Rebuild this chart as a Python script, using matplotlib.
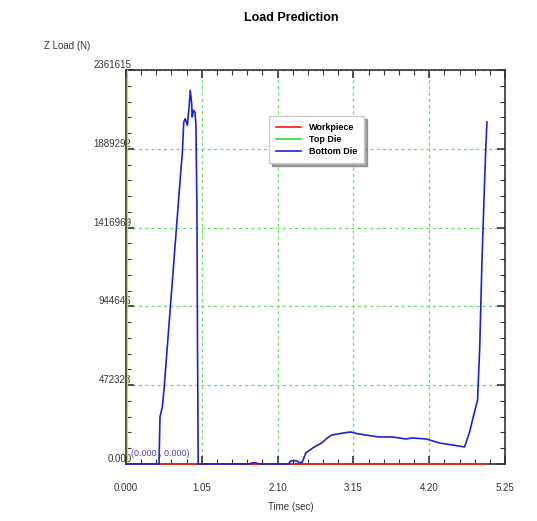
import numpy as np
import matplotlib.pyplot as plt
from matplotlib.ticker import MultipleLocator, FixedLocator

plt.rcParams['font.family'] = ['Liberation Sans', 'DejaVu Sans']

# time (sec) and Z load (N)
bottom_t = [0.0, 0.457, 0.471, 0.503, 0.526, 0.76, 0.78, 0.80, 0.82, 0.85, 0.875, 0.89,
            0.91, 0.917, 0.935, 0.955, 0.968, 0.982, 0.991, 1.0, 1.70, 1.76, 1.80, 1.86,
            2.25, 2.28, 2.36, 2.40, 2.44, 2.49, 2.60, 2.71, 2.80, 2.85, 3.0, 3.11, 3.20,
            3.32, 3.50, 3.69, 3.80, 3.88, 3.96, 4.16, 4.34, 4.52, 4.69, 4.76, 4.80, 4.87,
            4.90, 4.93, 4.96, 4.98, 5.0]
bottom_z = [0, 0, 282000, 342000, 443000, 1760000, 1860000, 2050000, 2070000, 2030000,
            2140000, 2240000, 2160000, 2080000, 2120000, 2110000, 2040000, 1560000, 683000,
            0, 0, 8000, 6000, 0, 0, 18000, 20000, 8000, 10000, 66000, 100000, 126000, 160000,
            174000, 185000, 192000, 182000, 174000, 162000, 162000, 155000, 150000, 156000,
            150000, 126000, 114000, 102000, 192000, 264000, 384000, 700000, 1200000,
            1600000, 1850000, 2050000]
work_t = [0.0, 5.0]
work_z = [0, 0]
top_t = [0.0, 5.0]
top_z = [0, 0]

y_ticks = [0, 472323, 944646, 1416969, 1889292, 2361615]
y_labels = ['0.000', '472323', '944646', '1416969', '1889292', '2361615']
x_ticks = [0.0, 1.05, 2.10, 3.15, 4.20, 5.25]
x_labels = ['0.000', '1.05', '2.10', '3.15', '4.20', '5.25']

fig = plt.figure(figsize=(5.37, 5.21), dpi=100)
ax = fig.add_axes([126 / 537, 1 - 464 / 521, 379 / 537, 394 / 521])

ax.plot(top_t, top_z, color='#22dd22', lw=1.2, label='Top Die', zorder=4, clip_on=False)
ax.plot(work_t, work_z, color='#ff1010', lw=1.2, label='Workpiece', zorder=5, clip_on=False)
ax.plot(bottom_t, bottom_z, color='#2020d0', lw=1.2, label='Bottom Die', zorder=6,
        clip_on=False)

ax.set_xlim(0, 5.25)
ax.set_ylim(0, 2361615)
ax.xaxis.set_major_locator(FixedLocator(x_ticks))
ax.xaxis.set_minor_locator(MultipleLocator(0.21))
ax.yaxis.set_major_locator(FixedLocator(y_ticks))
ax.yaxis.set_minor_locator(MultipleLocator(2361615 / 25))
ax.set_xticklabels(x_labels)
ax.set_yticklabels(y_labels, va='bottom')

ax.tick_params(which='both', direction='in', top=True, right=True, color='#333333')
ax.tick_params(which='major', length=5.5, width=1.2, labelsize=7, labelcolor='#333333')
ax.tick_params(which='minor', length=3.5, width=0.8)
ax.tick_params(axis='x', pad=14)
ax.tick_params(axis='y', pad=-4)

ax.grid(True, which='major', color='#66e066', ls=(0, (2.5, 2.5)), lw=0.9)
for s in ax.spines.values():
    s.set_color('#333333')
    s.set_linewidth(1.2)
ax.plot([0.003, 0.003], [0, 1], transform=ax.transAxes, color='#dddd30', lw=0.9,
        clip_on=False, zorder=3)

ax.text(0.012, 0.02, '(0.000 , 0.000)', transform=ax.transAxes, color='#4444cc',
        fontsize=6.5)

handles, labels = ax.get_legend_handles_labels()
order = [1, 0, 2]
leg = ax.legend([handles[i] for i in order], [labels[i] for i in order],
                loc='upper left', bbox_to_anchor=(269 / 537, 1 - 116 / 521),
                bbox_transform=fig.transFigure, fancybox=False, shadow=True,
                framealpha=1, edgecolor='#cccccc', prop={'weight': 'bold', 'size': 6.5},
                handlelength=2.8, handletextpad=0.9, labelspacing=0.35, borderpad=0.75,
                borderaxespad=0)
leg.set_zorder(10)

fig.text(291 / 537, 1 - 18 / 521, 'Load Prediction', ha='center', va='center',
         fontsize=9, fontweight='bold')
fig.text(44 / 537, 1 - 46 / 521, 'Z Load (N)', ha='left', va='center', fontsize=7,
         color='#333333')
fig.text(291 / 537, 1 - 507 / 521, 'Time (sec)', ha='center', va='center', fontsize=7,
         color='#333333')

fig.savefig('out.png', dpi=100)
